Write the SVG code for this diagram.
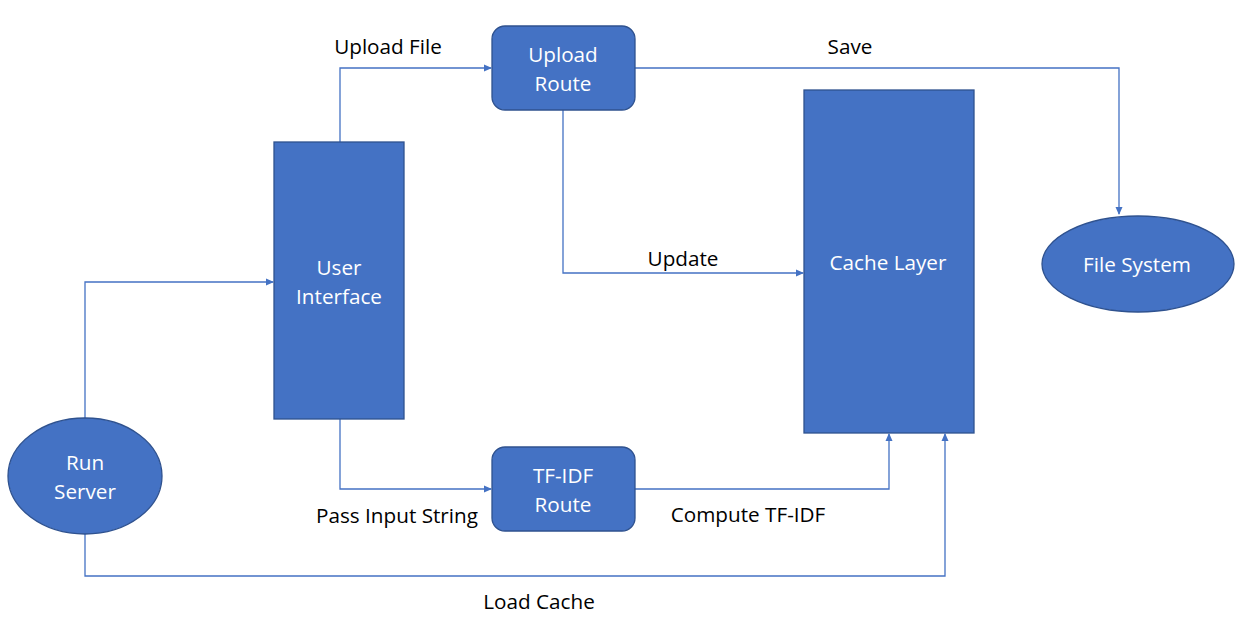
<svg xmlns="http://www.w3.org/2000/svg" width="1236" height="626" viewBox="0 0 1236 626">
<style>
.n{fill:#4472C4;stroke:#2F528F;stroke-width:1.3}
.t{font-family:"Open Sans","Noto Sans",sans-serif;font-size:20.7px;text-anchor:middle}
.w{fill:#fff}
.k{fill:#000}
.c{fill:none;stroke:#4472C4;stroke-width:1.3}
</style>
<defs>
<marker id="a" markerWidth="8" markerHeight="8" refX="7" refY="4" orient="auto" markerUnits="userSpaceOnUse">
<path d="M0,0.5 L8,4 L0,7.5 Z" fill="#4472C4"/>
</marker>
</defs>
<rect width="1236" height="626" fill="#fff"/>
<g id="connectors">
<path class="c" d="M85,418 V282 H273" marker-end="url(#a)"/>
<path class="c" d="M340,142 V68 H491" marker-end="url(#a)"/>
<path class="c" d="M635,68 H1119 V214" marker-end="url(#a)"/>
<path class="c" d="M563,110 V273 H803" marker-end="url(#a)"/>
<path class="c" d="M340,419 V489 H491" marker-end="url(#a)"/>
<path class="c" d="M635,489 H889 V434" marker-end="url(#a)"/>
<path class="c" d="M85,534 V576 H945 V434" marker-end="url(#a)"/>
<text class="t k" x="388" y="54">Upload File</text>
<text class="t k" x="850" y="54">Save</text>
<text class="t k" x="683" y="266">Update</text>
<text class="t k" x="397" y="523">Pass Input String</text>
<text class="t k" x="748" y="522">Compute TF-IDF</text>
<text class="t k" x="539" y="609">Load Cache</text>
</g>
<g id="upload-route">
<rect class="n" x="492" y="26" width="143" height="84" rx="13"/>
<text class="t w" x="563" y="62">Upload</text>
<text class="t w" x="563" y="91">Route</text>
</g>
<g id="user-interface">
<rect class="n" x="274" y="142" width="130" height="277"/>
<text class="t w" x="339" y="275">User</text>
<text class="t w" x="339" y="304">Interface</text>
</g>
<g id="run-server">
<ellipse class="n" cx="85" cy="476" rx="77" ry="58"/>
<text class="t w" x="85" y="470">Run</text>
<text class="t w" x="85" y="499">Server</text>
</g>
<g id="tfidf-route">
<rect class="n" x="492" y="447" width="143" height="84" rx="13"/>
<text class="t w" x="563" y="483">TF-IDF</text>
<text class="t w" x="563" y="512">Route</text>
</g>
<g id="cache-layer">
<rect class="n" x="804" y="90" width="170" height="343"/>
<text class="t w" x="888" y="270">Cache Layer</text>
</g>
<g id="file-system">
<ellipse class="n" cx="1138" cy="264" rx="96" ry="48"/>
<text class="t w" x="1137" y="272">File System</text>
</g>
</svg>
